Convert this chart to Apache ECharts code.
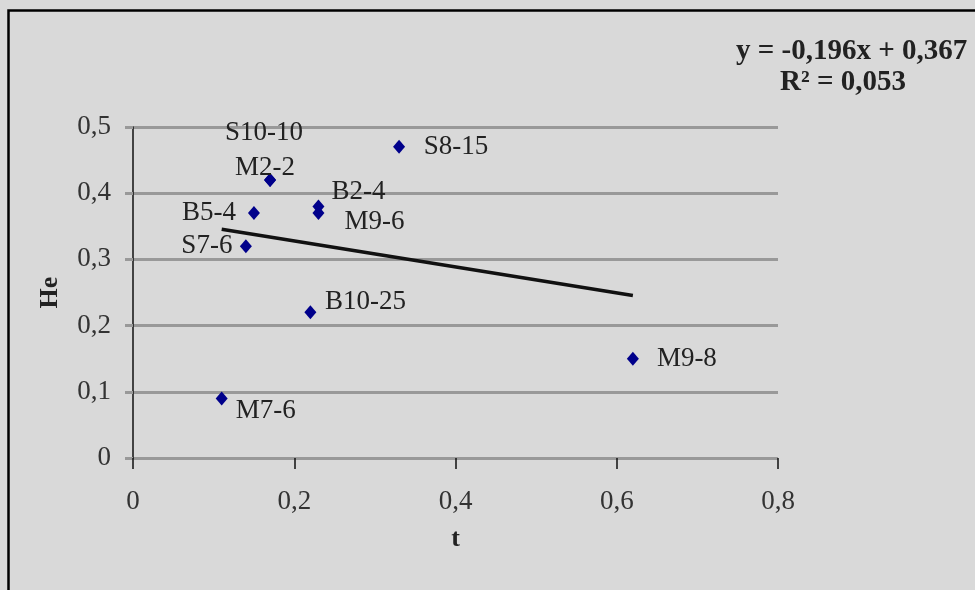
<!DOCTYPE html>
<html>
<head>
<meta charset="utf-8">
<script src="https://cdn.jsdelivr.net/npm/echarts@6/dist/echarts.min.js"></script>
<style>
  html, body { margin: 0; padding: 0; background: #fff; }
  #box { width: 975px; height: 590px; }
</style>
</head>
<body>
<div id="box"></div>
<script>
// data
const names = ['S10-10', 'M2-2', 'S8-15', 'B2-4', 'M9-6', 'B5-4', 'S7-6', 'B10-25', 'M7-6', 'M9-8']
const tValues = [0.17, 0.17, 0.33, 0.23, 0.23, 0.15, 0.14, 0.22, 0.11, 0.62]
const heValues = [0.42, 0.42, 0.47, 0.38, 0.37, 0.37, 0.32, 0.22, 0.09, 0.15]
const xTicks = ['0', '0,2', '0,4', '0,6', '0,8']
const yTicks = ['0', '0,1', '0,2', '0,3', '0,4', '0,5']

// trend line from the printed equation
const slope = -0.196
const intercept = 0.367

// label placement (center offset from point, px)
const labelOffsets = {
  'S10-10': [-6, -47], 'M2-2': [-5, -12], 'S8-15': [57, 0], 'B2-4': [40, -15],
  'M9-6': [56, 9], 'B5-4': [-45, 0], 'S7-6': [-39, 0], 'B10-25': [55, -10],
  'M7-6': [44, 12], 'M9-8': [54, 0]
}

const font = 'Liberation Serif, Times New Roman, serif'
const myChart = echarts.init(document.getElementById('box'))

const tMin = Math.min(...tValues)
const tMax = Math.max(...tValues)

const points = names.map((n, i) => ({
  name: n,
  value: [tValues[i], heValues[i]],
  label: { offset: labelOffsets[n] }
}))

const fmt = (list, step) => v => list[Math.round(v / step)] ?? ''

myChart.setOption({
  backgroundColor: '#d9d9d9',
  animation: false,
  grid: { left: 133, right: 197, top: 127, bottom: 132 },
  xAxis: {
    type: 'value', min: 0, max: 0.8, interval: 0.2,
    name: 't', nameLocation: 'middle', nameGap: 68,
    nameTextStyle: { fontFamily: font, fontSize: 26, fontWeight: 'bold', color: '#222' },
    axisLine: { show: false },
    axisTick: { show: true, length: 11, inside: false, lineStyle: { color: '#111', width: 1.5 } },
    splitLine: { show: false },
    axisLabel: { formatter: fmt(xTicks, 0.2), fontFamily: font, fontSize: 27, color: '#333', margin: 30 }
  },
  yAxis: {
    type: 'value', min: 0, max: 0.5, interval: 0.1,
    name: 'He', nameLocation: 'middle', nameGap: 70, nameRotate: 90,
    nameTextStyle: { fontFamily: font, fontSize: 26, fontWeight: 'bold', color: '#222' },
    axisLine: { show: true, lineStyle: { color: '#111', width: 1.5 } },
    axisTick: { show: true, length: 8, lineStyle: { color: '#999', width: 3 } },
    splitLine: { show: true, lineStyle: { color: '#999', width: 3 } },
    axisLabel: { formatter: fmt(yTicks, 0.1), fontFamily: font, fontSize: 27, color: '#333', margin: 22 }
  },
  graphic: [
    { type: 'rect', left: 6, top: 8, shape: { width: 1000, height: 600 },
      style: { fill: 'none', stroke: '#000', lineWidth: 2.5 }, silent: true },
    { type: 'text', left: 736, top: 37,
      style: { text: 'y = -0,196x + 0,367', font: 'bold 29px ' + font, fill: '#222' } },
    { type: 'text', left: 780, top: 68,
      style: { text: 'R² = 0,053', font: 'bold 29px ' + font, fill: '#222' } }
  ],
  series: [
    {
      type: 'line',
      data: [[tMin, slope * tMin + intercept], [tMax, slope * tMax + intercept]],
      showSymbol: false,
      lineStyle: { color: '#111', width: 3.5 },
      z: 3
    },
    {
      type: 'scatter',
      data: points,
      symbol: 'diamond',
      symbolSize: [12, 14],
      itemStyle: { color: '#00008b', opacity: 1 },
      label: {
        show: true, position: 'inside', align: 'center', verticalAlign: 'middle',
        formatter: p => p.name,
        fontFamily: font, fontSize: 27, color: '#222'
      },
      z: 4
    }
  ]
})
</script>
</body>
</html>
